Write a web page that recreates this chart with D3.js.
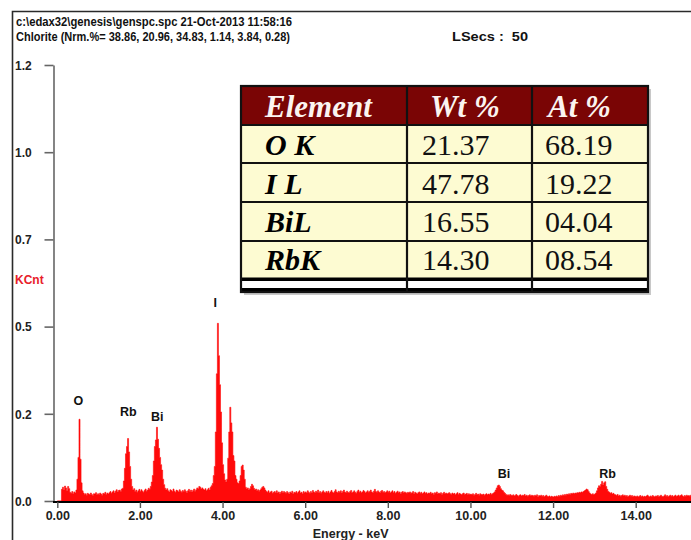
<!DOCTYPE html>
<html>
<head>
<meta charset="utf-8">
<script src="https://cdn.jsdelivr.net/npm/d3@7"></script>
<style>
  html, body { margin: 0; padding: 0; background: #fff; }
  svg { display: block; }
</style>
</head>
<body>
<svg id="chart" width="691" height="540"></svg>
<script>
// ---- acquisition header ----
const headerLine1 = "c:\\edax32\\genesis\\genspc.spc  21-Oct-2013 11:58:16";
const headerLine2 = "Chlorite (Nrm.%= 38.86, 20.96, 34.83, 1.14, 3.84, 0.28)";
const liveSecs = "LSecs :  50";

// ---- spectrum: counts (KCnt) per 0.025 keV channel, starting at 0 keV ----
const channelWidth = 0.025;
const counts = [
  // 0.0 - 0.5
  0,0,0,0,.032,.038,.030,.041,.036,.028,.040,.034,.024,.021,.026,.020,.025,.022,.030,.060,
  // 0.5 - 1.0 (O K)
  .120,.225,.115,.050,.028,.022,.018,.020,.016,.021,.019,.017,.022,.018,.015,.020,.019,.023,.017,.020,
  // 1.0 - 1.5
  .018,.022,.019,.016,.021,.020,.024,.018,.022,.019,.023,.026,.021,.025,.028,.022,.027,.031,.025,.029,
  // 1.5 - 2.0 (Rb L)
  .030,.026,.033,.035,.055,.090,.130,.150,.172,.135,.095,.060,.040,.030,.034,.026,.030,.024,.028,.032,
  // 2.0 - 2.5 (Bi M)
  .026,.031,.027,.024,.029,.033,.027,.030,.035,.032,.040,.052,.070,.110,.150,.168,.203,.170,.145,.120,
  // 2.5 - 3.0
  .100,.085,.060,.045,.035,.030,.034,.028,.025,.031,.029,.026,.033,.027,.024,.030,.028,.025,.031,.027,
  // 3.0 - 3.5
  .024,.029,.026,.031,.027,.023,.028,.032,.026,.030,.025,.029,.033,.027,.031,.036,.034,.040,.038,.033,
  // 3.5 - 4.0 (I L)
  .036,.032,.030,.034,.028,.031,.035,.030,.038,.042,.048,.070,.095,.190,.350,.489,.400,.320,.245,.160,
  // 4.0 - 4.5
  .100,.075,.058,.052,.060,.118,.190,.258,.215,.190,.125,.110,.070,.060,.050,.048,.055,.070,.095,.099,
  // 4.5 - 5.0
  .085,.060,.038,.033,.036,.030,.034,.040,.046,.042,.035,.030,.033,.028,.031,.027,.030,.034,.038,.040,
  // 5.0 - 5.5
  .036,.030,.026,.024,.028,.022,.025,.027,.021,.024,.026,.023,.028,.022,.025,.020,.024,.027,.023,.026,
  // 5.5 - 6.0
  .024,.021,.026,.023,.019,.025,.022,.027,.020,.024,.023,.026,.021,.025,.028,.022,.024,.020,.026,.023,
  // 6.0 - 6.5
  .025,.022,.028,.024,.021,.026,.023,.029,.025,.022,.027,.024,.030,.023,.026,.021,.025,.028,.024,.022,
  // 6.5 - 7.0
  .026,.023,.027,.021,.025,.029,.024,.022,.026,.031,.025,.023,.027,.024,.028,.022,.026,.030,.025,.023,
  // 7.0 - 7.5
  .027,.024,.022,.026,.029,.023,.025,.028,.024,.021,.026,.030,.024,.027,.023,.025,.029,.026,.022,.025,
  // 7.5 - 8.0
  .028,.024,.026,.030,.025,.023,.027,.032,.026,.024,.028,.025,.022,.027,.029,.024,.026,.023,.025,.028,
  // 8.0 - 8.5
  .024,.027,.022,.025,.028,.023,.026,.021,.024,.027,.023,.025,.020,.024,.026,.022,.025,.023,.021,.024,
  // 8.5 - 9.0
  .022,.025,.021,.023,.026,.020,.024,.022,.019,.023,.025,.021,.024,.020,.022,.025,.021,.023,.019,.022,
  // 9.0 - 9.5
  .021,.024,.020,.022,.018,.023,.021,.025,.019,.022,.020,.023,.018,.021,.024,.020,.022,.019,.021,.023,
  // 9.5 - 10.0
  .020,.018,.022,.019,.021,.017,.020,.023,.018,.021,.019,.017,.020,.022,.018,.019,.021,.017,.020,.018,
  // 10.0 - 10.5
  .019,.017,.020,.016,.018,.021,.017,.019,.016,.020,.018,.017,.019,.016,.018,.020,.017,.019,.018,.021,
  // 10.5 - 11.0 (Bi L)
  .018,.020,.022,.025,.030,.036,.042,.044,.040,.034,.030,.028,.024,.021,.018,.016,.017,.015,.018,.016,
  // 11.0 - 11.5
  .015,.017,.014,.016,.018,.015,.013,.016,.017,.014,.016,.015,.018,.014,.016,.013,.015,.017,.014,.016,
  // 11.5 - 12.0
  .015,.013,.016,.014,.017,.012,.015,.014,.016,.013,.015,.012,.014,.016,.013,.012,.014,.011,.013,.012,
  // 12.0 - 12.5
  .011,.013,.012,.014,.012,.015,.013,.016,.014,.017,.015,.018,.016,.019,.017,.020,.018,.021,.019,.022,
  // 12.5 - 13.0
  .020,.022,.021,.023,.022,.024,.023,.025,.024,.026,.028,.030,.033,.031,.026,.022,.019,.018,.020,.017,
  // 13.0 - 13.5 (Rb K)
  .019,.022,.028,.036,.042,.040,.046,.054,.044,.050,.053,.040,.032,.026,.024,.021,.023,.019,.021,.018,
  // 13.5 - 14.0
  .017,.015,.018,.014,.016,.013,.015,.017,.014,.016,.013,.015,.012,.014,.016,.013,.015,.012,.014,.013,
  // 14.0 - 14.5
  .012,.014,.011,.013,.015,.012,.014,.011,.013,.012,.014,.016,.013,.011,.014,.012,.015,.013,.011,.014,
  // 14.5 - 15.0
  .013,.015,.012,.014,.016,.013,.011,.014,.017,.013,.015,.012,.014,.016,.013,.015,.012,.014,.016,.013,
  // 15.0 - 15.5
  .014,.016,.013,.015,.017,.014,.012,.015,.013,.016,.014,.015,.013,.016,.014,.012,.015,.013,.016,.014
];

// ---- axes ----
const xTicks = [0, 2, 4, 6, 8, 10, 12, 14];
const yTicks = [0, 0.24, 0.48, 0.72, 0.96, 1.2];
const xAxisTitle = "Energy - keV";
const yAxisTitle = "KCnt";

// ---- peak identification labels ----
const peakNames    = ["O", "Rb", "Bi", "I", "Bi", "Rb"];
const peakEnergies = [0.51, 1.72, 2.42, 3.82, 10.81, 13.32];
const peakLabelAt  = [0.275, 0.245, 0.232, 0.545, 0.074, 0.074];

// ---- quantification table ----
const tableHeaders = ["Element", "Wt %", "At %"];
const elements = ["O K", "I L", "BiL", "RbK"];
const wtPct = ["21.37", "47.78", "16.55", "14.30"];
const atPct = ["68.19", "19.22", "04.04", "08.54"];

const svg = d3.select("#chart");
const sans = "'Liberation Sans', Arial, sans-serif";
const serif = "'Liberation Serif', 'Times New Roman', serif";

// scales
const x = d3.scaleLinear().domain([0, 14]).range([57.3, 635.7]);
const y = d3.scaleLinear().domain([0, 1.2]).range([501, 65]);

// outer frame (top and left edges)
svg.append("path")
  .attr("d", "M691,11.5 H12.5 V540")
  .attr("fill", "none").attr("stroke", "#2a2a2a").attr("stroke-width", 1.6);

// header text
const hdr = svg.append("g").attr("font-family", sans).attr("font-weight", "bold")
  .attr("font-size", 13.5).attr("fill", "#111");
hdr.append("text").attr("x", 16).attr("y", 25.5).text(headerLine1)
  .attr("textLength", 276).attr("lengthAdjust", "spacingAndGlyphs");
hdr.append("text").attr("x", 16).attr("y", 41).text(headerLine2)
  .attr("textLength", 274).attr("lengthAdjust", "spacingAndGlyphs");
hdr.append("text").attr("x", 452).attr("y", 41).text(liveSecs)
  .attr("textLength", 76).attr("lengthAdjust", "spacingAndGlyphs")
  .style("white-space", "pre");

// spectrum
const spectrum = counts.map((c, i) => ({ e: i * channelWidth, c }));
const area = d3.area()
  .x(d => x(d.e))
  .y0(y(0))
  .y1(d => y(d.c))
  .curve(d3.curveStepAfter);
svg.append("path").datum(spectrum)
  .attr("d", area)
  .attr("fill", "#ff0a0a")
  .attr("stroke", "#ff0a0a").attr("stroke-width", 0.6);

// y axis
const yAxis = svg.append("g").attr("transform", "translate(53.5,0)")
  .call(d3.axisLeft(y).tickValues(yTicks).tickFormat(d3.format(".1f")).tickSize(9).tickSizeOuter(0));
yAxis.select(".domain").attr("stroke", "#666").attr("stroke-width", 1.6);
yAxis.selectAll(".tick line").attr("stroke", "#666").attr("stroke-width", 1.6);
yAxis.selectAll(".tick text")
  .attr("x", 15 - 53.5).attr("text-anchor", "start").attr("dy", "0.35em")
  .attr("font-family", sans).attr("font-weight", "bold").attr("font-size", 12).attr("fill", "#222");

svg.append("text").attr("x", 15).attr("y", 283.5)
  .attr("font-family", sans).attr("font-weight", "bold").attr("font-size", 12)
  .attr("fill", "#e8202a").text(yAxisTitle);

// x axis
const xAxis = svg.append("g").attr("transform", "translate(0,502)")
  .call(d3.axisBottom(x).tickValues(xTicks).tickFormat(d3.format(".2f")).tickSize(6).tickSizeOuter(0));
xAxis.select(".domain").attr("d", "M53,0H691").attr("stroke", "#000").attr("stroke-width", 2.2);
xAxis.selectAll(".tick line").attr("stroke", "#555").attr("stroke-width", 1.4);
xAxis.selectAll(".tick text")
  .attr("y", 9).attr("dy", "0.71em")
  .attr("font-family", sans).attr("font-weight", "bold").attr("font-size", 12.5).attr("fill", "#222");

svg.append("text").attr("x", x(7.1)).attr("y", 537.5)
  .attr("text-anchor", "middle")
  .attr("font-family", sans).attr("font-weight", "bold").attr("font-size", 12.5).attr("fill", "#222")
  .text(xAxisTitle);

// peak labels
svg.append("g").selectAll("text")
  .data(peakNames.map((n, i) => ({ n, e: peakEnergies[i], v: peakLabelAt[i] })))
  .join("text")
  .attr("x", d => x(d.e)).attr("y", d => y(d.v))
  .attr("dy", "0.35em").attr("text-anchor", "middle")
  .attr("font-family", sans).attr("font-weight", "bold").attr("font-size", 12.5).attr("fill", "#111")
  .text(d => d.n);

// quantification table
const colEdges = [241, 407, 532, 648];
const rowEdges = [86, 125, 163, 202, 241, 278];
const tbl = svg.append("g");

// shadow and body
tbl.append("rect").attr("x", colEdges[0] + 3).attr("y", rowEdges[0] + 3)
  .attr("width", colEdges[3] - colEdges[0]).attr("height", 292 - rowEdges[0])
  .attr("fill", "#c8c8c8");
tbl.append("rect").attr("x", colEdges[0]).attr("y", rowEdges[0])
  .attr("width", colEdges[3] - colEdges[0]).attr("height", 292 - rowEdges[0])
  .attr("fill", "#fdfbd2");
tbl.append("rect").attr("x", colEdges[0]).attr("y", 281)
  .attr("width", colEdges[3] - colEdges[0]).attr("height", 7)
  .attr("fill", "#ffffff");
tbl.append("rect").attr("x", colEdges[0]).attr("y", rowEdges[0])
  .attr("width", colEdges[3] - colEdges[0]).attr("height", rowEdges[1] - rowEdges[0])
  .attr("fill", "#7a0505");

// row rules
tbl.selectAll("line.row").data(rowEdges.slice(1, 5)).join("line")
  .attr("x1", colEdges[0]).attr("x2", colEdges[3])
  .attr("y1", d => d).attr("y2", d => d)
  .attr("stroke", "#111").attr("stroke-width", 2);
// double bottom rule
tbl.append("rect").attr("x", colEdges[0]).attr("y", 277.5)
  .attr("width", colEdges[3] - colEdges[0]).attr("height", 3.5).attr("fill", "#000");
tbl.append("rect").attr("x", colEdges[0]).attr("y", 288)
  .attr("width", colEdges[3] - colEdges[0]).attr("height", 4).attr("fill", "#000");
// column rules
tbl.selectAll("line.col").data(colEdges.slice(1, 3)).join("line")
  .attr("x1", d => d).attr("x2", d => d)
  .attr("y1", rowEdges[0]).attr("y2", 292)
  .attr("stroke", "#111").attr("stroke-width", 2.2);
// frame
tbl.append("rect").attr("x", colEdges[0]).attr("y", rowEdges[0])
  .attr("width", colEdges[3] - colEdges[0]).attr("height", 292 - rowEdges[0])
  .attr("fill", "none").attr("stroke", "#111").attr("stroke-width", 2.2);

// header cells
const headerX = [265, 430, 548];
tbl.selectAll("text.hd").data(tableHeaders).join("text")
  .attr("x", (d, i) => headerX[i]).attr("y", 117)
  .attr("font-family", serif).attr("font-weight", "bold").attr("font-style", "italic")
  .attr("font-size", 31).attr("fill", "#fbf4f0")
  .text(d => d);

// body cells
const baselines = [155, 193.5, 232, 270];
tbl.selectAll("text.el").data(elements).join("text")
  .attr("x", 265).attr("y", (d, i) => baselines[i])
  .attr("font-family", serif).attr("font-weight", "bold").attr("font-style", "italic")
  .attr("font-size", 30).attr("fill", "#000")
  .style("white-space", "pre")
  .text(d => d);
tbl.selectAll("text.wt").data(wtPct).join("text")
  .attr("x", 422).attr("y", (d, i) => baselines[i])
  .attr("font-family", serif).attr("font-size", 30).attr("fill", "#111")
  .text(d => d);
tbl.selectAll("text.at").data(atPct).join("text")
  .attr("x", 545).attr("y", (d, i) => baselines[i])
  .attr("font-family", serif).attr("font-size", 30).attr("fill", "#111")
  .text(d => d);
</script>
</body>
</html>
